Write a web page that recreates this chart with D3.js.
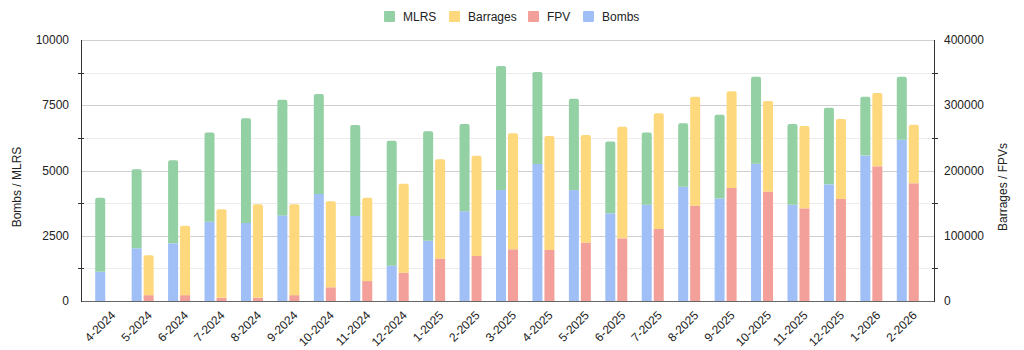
<!DOCTYPE html>
<html>
<head>
<meta charset="utf-8">
<script src="https://cdn.jsdelivr.net/npm/d3@7"></script>
<style>
  body { margin: 0; background: #fff; }
  svg { font-family: "Liberation Sans", Arial, sans-serif; }
</style>
</head>
<body>
<div id="chart"></div>
<script>
// month labels
const months = [
  "4-2024", "5-2024", "6-2024", "7-2024", "8-2024", "9-2024", "10-2024",
  "11-2024", "12-2024", "1-2025", "2-2025", "3-2025", "4-2025", "5-2025",
  "6-2025", "7-2025", "8-2025", "9-2025", "10-2025", "11-2025", "12-2025",
  "1-2026", "2-2026"
];

// left axis series (stacked: bombs then mlrs)
const bombs = [1120, 2020, 2210, 3040, 2990, 3280, 4100, 3260, 1350, 2310, 3440,
  4250, 5250, 4250, 3360, 3690, 4380, 3930, 5260, 3690, 4470, 5570, 6180];
const mlrs = [2840, 3030, 3180, 3420, 4010, 4430, 3830, 3480, 4790, 4190, 3340,
  4750, 3520, 3500, 2750, 2770, 2430, 3210, 3330, 3090, 2930, 2260, 2410];

// right axis series (stacked: fpv then barrages)
const fpv = [0, 9000, 9000, 5000, 5000, 9000, 21000, 30500, 43400, 64800, 69000,
  79200, 78200, 89400, 96000, 110300, 146100, 173200, 167500, 142000, 156300,
  206400, 180400];
const barrages = [0, 61000, 106400, 135500, 143200, 139200, 131800, 127800,
  136400, 152300, 153700, 177800, 174700, 165000, 171200, 177300, 167000,
  148200, 139000, 126200, 122600, 112400, 89800];

const leftTicks = [0, 2500, 5000, 7500, 10000];
const rightTicks = [0, 100000, 200000, 300000, 400000];

const colors = {
  MLRS: "#93d0a4",
  Barrages: "#fdd87c",
  FPV: "#f4a09a",
  Bombs: "#a0bff6",
};
const legendItems = ["MLRS", "Barrages", "FPV", "Bombs"];

const width = 1024, height = 350;
const margin = { top: 40, bottom: 49, left: 81, right: 90 };
const plotBottom = height - margin.bottom;
const plotRight = width - margin.right;

const svg = d3.select("#chart").append("svg")
  .attr("width", width)
  .attr("height", height);

const x = d3.scaleBand().domain(months).range([88, 926]);
const yL = d3.scaleLinear().domain([0, 10000]).range([plotBottom, margin.top]);
const yR = d3.scaleLinear().domain([0, 400000]).range([plotBottom, margin.top]);

// minor gridlines (half steps)
const minor = d3.range(1250, 10000, 2500);
svg.append("g").selectAll("line").data(minor).join("line")
  .attr("x1", margin.left).attr("x2", plotRight)
  .attr("y1", d => Math.round(yL(d)) + 0.5).attr("y2", d => Math.round(yL(d)) + 0.5)
  .attr("stroke", "#ececec");

// major gridlines
svg.append("g").selectAll("line").data(leftTicks.slice(1)).join("line")
  .attr("x1", margin.left).attr("x2", plotRight)
  .attr("y1", d => Math.round(yL(d)) + 0.5).attr("y2", d => Math.round(yL(d)) + 0.5)
  .attr("stroke", "#cfcfcf");

// bar with rounded top corners
function topRounded(x0, y0, w, h, r) {
  r = Math.min(r, h);
  return `M${x0},${y0 + h} V${y0 + r} Q${x0},${y0} ${x0 + r},${y0} H${x0 + w - r} Q${x0 + w},${y0} ${x0 + w},${y0 + r} V${y0 + h} Z`;
}

const barW = 10;
const groups = svg.append("g").selectAll("g").data(months).join("g");

groups.each(function (m, i) {
  const g = d3.select(this);
  const cx = x(m) + x.bandwidth() / 2;
  const lx = cx - 11, rx = cx + 1;

  // bombs + mlrs on left scale
  if (bombs[i] > 0) {
    g.append("rect")
      .attr("x", lx).attr("width", barW)
      .attr("y", yL(bombs[i])).attr("height", plotBottom - yL(bombs[i]))
      .attr("fill", colors.Bombs);
  }
  const t1 = bombs[i] + mlrs[i];
  g.append("path")
    .attr("d", topRounded(lx, yL(t1), barW, yL(bombs[i]) - yL(t1), 2))
    .attr("fill", colors.MLRS);

  // fpv + barrages on right scale
  if (fpv[i] + barrages[i] > 0) {
    g.append("rect")
      .attr("x", rx).attr("width", barW)
      .attr("y", yR(fpv[i])).attr("height", plotBottom - yR(fpv[i]))
      .attr("fill", colors.FPV);
    const t2 = fpv[i] + barrages[i];
    g.append("path")
      .attr("d", topRounded(rx, yR(t2), barW, yR(fpv[i]) - yR(t2), 2))
      .attr("fill", colors.Barrages);
  }
});

// axes lines
svg.append("line")
  .attr("x1", margin.left).attr("x2", plotRight + 1)
  .attr("y1", plotBottom + 0.5).attr("y2", plotBottom + 0.5)
  .attr("stroke", "#666");
svg.append("line")
  .attr("x1", margin.left + 0.5).attr("x2", margin.left + 0.5)
  .attr("y1", margin.top).attr("y2", plotBottom + 1)
  .attr("stroke", "#333");
svg.append("line")
  .attr("x1", plotRight + 0.5).attr("x2", plotRight + 0.5)
  .attr("y1", margin.top).attr("y2", plotBottom + 1)
  .attr("stroke", "#333");

// tick marks at minor positions on both axes
svg.append("g").selectAll("line").data(minor).join("line")
  .attr("x1", margin.left - 3).attr("x2", margin.left + 3)
  .attr("y1", d => Math.round(yL(d)) + 0.5).attr("y2", d => Math.round(yL(d)) + 0.5)
  .attr("stroke", "#333");
svg.append("g").selectAll("line").data(minor).join("line")
  .attr("x1", plotRight - 2).attr("x2", plotRight + 4)
  .attr("y1", d => Math.round(yL(d)) + 0.5).attr("y2", d => Math.round(yL(d)) + 0.5)
  .attr("stroke", "#333");

// tick labels
svg.append("g").selectAll("text").data(leftTicks).join("text")
  .attr("x", 69).attr("y", d => yL(d)).attr("dy", "0.35em")
  .attr("text-anchor", "end")
  .style("font-size", "12px").attr("fill", "#222")
  .text(d => d);
svg.append("g").selectAll("text").data(rightTicks).join("text")
  .attr("x", 944).attr("y", d => yR(d)).attr("dy", "0.35em")
  .attr("text-anchor", "start")
  .style("font-size", "12px").attr("fill", "#222")
  .text(d => d);

// x labels
svg.append("g").selectAll("text").data(months).join("text")
  .attr("transform", d => `translate(${x(d) + x.bandwidth() / 2 + 7}, ${plotBottom + 12}) rotate(-45)`)
  .attr("text-anchor", "end")
  .attr("dy", "0.35em")
  .style("font-size", "12px").attr("fill", "#222")
  .text(d => d);

// axis titles
svg.append("text")
  .attr("transform", "translate(21, 187) rotate(-90)")
  .attr("text-anchor", "middle")
  .style("font-size", "12px").attr("fill", "#222")
  .text("Bombs / MLRS");
svg.append("text")
  .attr("transform", "translate(1007, 187) rotate(-90)")
  .attr("text-anchor", "middle")
  .style("font-size", "12px").attr("fill", "#222")
  .text("Barrages / FPVs");

// legend
const legendX = [384, 449, 528, 583];
const legend = svg.append("g").selectAll("g").data(legendItems).join("g")
  .attr("transform", (d, i) => `translate(${legendX[i]}, 11)`);
legend.append("rect")
  .attr("width", 11).attr("height", 11).attr("rx", 1)
  .attr("fill", d => colors[d]);
legend.append("text")
  .attr("x", 19).attr("y", 6).attr("dy", "0.35em")
  .style("font-size", "12px").attr("fill", "#222")
  .text(d => d);
</script>
</body>
</html>
